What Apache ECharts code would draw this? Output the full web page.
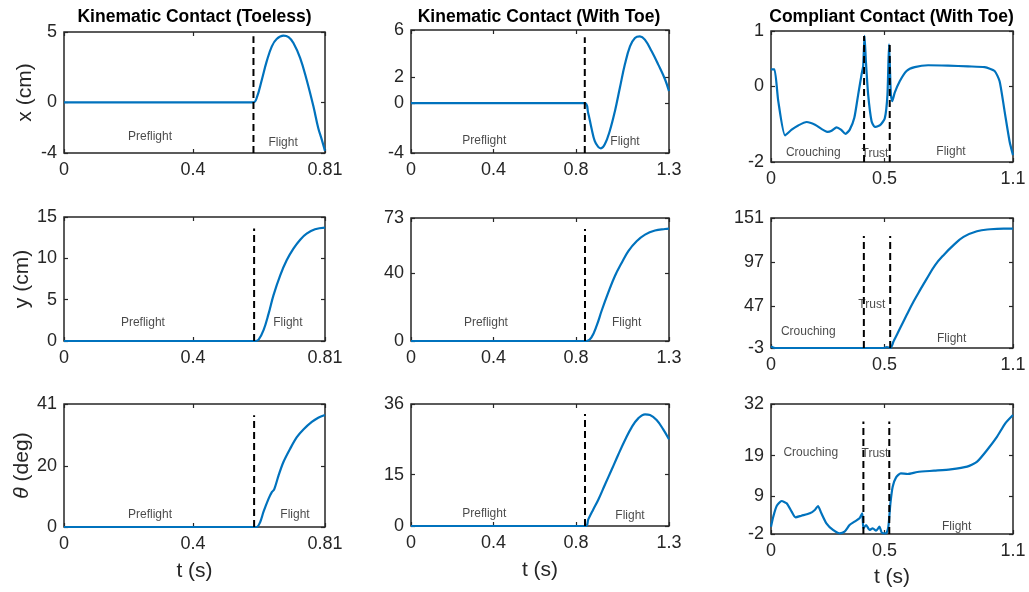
<!DOCTYPE html>
<html>
<head>
<meta charset="utf-8">
<script src="https://cdn.jsdelivr.net/npm/echarts@6/dist/echarts.min.js"></script>
<style>
  html, body { margin: 0; padding: 0; background: #fff; }
  #main { width: 1029px; height: 592px; }
</style>
</head>
<body>
<div id="main"></div>
<script>
// ---- time axes (one per column) ----
const col1Ticks = [0, 0.4, 0.81];
const col1TickLabels = ['0', '0.4', '0.81'];
const col2Ticks = [0, 0.4, 0.8, 1.25];
const col2TickLabels = ['0', '0.4', '0.8', '1.3'];
const col3Ticks = [0, 0.5, 1.066];
const col3TickLabels = ['0', '0.5', '1.1'];

// ---- y ticks, per panel ----
const yTicks11 = [-3.6, 0, 5];          const yLabels11 = ['-4', '0', '5'];
const yTicks21 = [0, 5, 10, 15];         const yLabels21 = ['0', '5', '10', '15'];
const yTicks31 = [0, 20, 40.5];          const yLabels31 = ['0', '20', '41'];
const yTicks12 = [-3.85, 0, 2, 5.64];    const yLabels12 = ['-4', '0', '2', '6'];
const yTicks22 = [0, 40, 72.6];          const yLabels22 = ['0', '40', '73'];
const yTicks32 = [0, 15, 35.6];          const yLabels32 = ['0', '15', '36'];
const yTicks13 = [-2, 0, 1.44];          const yLabels13 = ['-2', '0', '1'];
const yTicks23 = [-3, 46.9, 99.1, 151];  const yLabels23 = ['-3', '47', '97', '151'];
const yTicks33 = [-2, 7.83, 18.5, 32];   const yLabels33 = ['-2', '9', '19', '32'];

// ---- Kinematic Contact (Toeless) ----
const t11 = [0, 0.588, 0.598, 0.614, 0.629, 0.645, 0.66, 0.681, 0.697, 0.712, 0.733, 0.753, 0.774, 0.789, 0.8, 0.81];
const x11 = [0, 0, 0.31, 1.61, 2.91, 3.98, 4.50, 4.74, 4.64, 4.22, 3.15, 1.61, -0.28, -1.82, -2.65, -3.45];
const t21 = [0, 0.593, 0.604, 0.619, 0.635, 0.65, 0.671, 0.691, 0.712, 0.733, 0.753, 0.779, 0.81];
const y21 = [0, 0, 0.16, 1.29, 3.31, 5.52, 7.94, 9.76, 11.17, 12.26, 12.98, 13.51, 13.71];
const t31 = [0, 0.598, 0.609, 0.619, 0.635, 0.645, 0.652, 0.666, 0.681, 0.702, 0.722, 0.743, 0.769, 0.789, 0.81];
const th31 = [0, 0, 1.65, 4.95, 9.34, 11.5, 12.3, 17.0, 21.4, 25.8, 29.5, 32.1, 34.6, 36.0, 36.9];

// ---- Kinematic Contact (With Toe) ----
const t12 = [0, 0.842, 0.858, 0.874, 0.89, 0.907, 0.92, 0.939, 0.963, 0.988, 1.012, 1.036, 1.061, 1.085, 1.109, 1.133, 1.166, 1.198, 1.231, 1.25];
const x12 = [0, 0, -0.74, -1.90, -2.92, -3.38, -3.49, -3.18, -2.15, -0.62, 1.18, 2.97, 4.38, 5.03, 5.15, 4.90, 4.0, 2.97, 1.82, 0.92];
const t22 = [0, 0.851, 0.875, 0.9, 0.924, 0.956, 0.988, 1.021, 1.053, 1.093, 1.134, 1.182, 1.231, 1.25];
const y22 = [0, 0, 2.3, 9.2, 18.0, 28.7, 38.4, 46.2, 53.1, 58.9, 62.8, 65.2, 66.1, 66.3];
const t32 = [0, 0.846, 0.859, 0.883, 0.908, 0.94, 0.972, 1.004, 1.037, 1.069, 1.101, 1.134, 1.158, 1.19, 1.222, 1.25];
const th32 = [0, 0, 1.93, 4.84, 7.74, 12.1, 16.4, 20.8, 25.1, 28.8, 31.4, 32.6, 32.4, 30.9, 28.2, 25.3];

// ---- Compliant Contact (With Toe) ----
const t13 = [0, 0.015, 0.032, 0.062, 0.091, 0.12, 0.157, 0.194, 0.249, 0.267, 0.289, 0.308, 0.328, 0.347, 0.367, 0.384, 0.399, 0.406, 0.412, 0.418, 0.428, 0.443, 0.457, 0.479, 0.501, 0.513, 0.52, 0.528, 0.534, 0.545, 0.567, 0.597, 0.633, 0.692, 0.78, 0.868, 0.941, 0.985, 1.007, 1.029, 1.051, 1.066];
const x13 = [0.43, 0.43, -0.40, -1.30, -1.15, -1.04, -0.95, -1.02, -1.21, -1.18, -1.09, -1.15, -1.26, -1.15, -0.84, -0.23, 0.30, 0.52, 1.31, 0.65, -0.23, -0.93, -1.08, -1.04, -0.86, -0.23, 1.09, -0.23, -0.40, -0.18, 0.12, 0.39, 0.49, 0.54, 0.53, 0.51, 0.49, 0.39, 0.12, -0.67, -1.46, -1.82];
const t23 = [0, 0.018, 0.496, 0.51, 0.525, 0.54, 0.569, 0.598, 0.628, 0.657, 0.687, 0.723, 0.76, 0.804, 0.848, 0.907, 0.966, 1.025, 1.066];
const y23 = [-1.0, -3, -3, -1.8, -3, 4.9, 20.6, 36.3, 52.0, 65.8, 79.5, 95.2, 107.0, 118.8, 128.6, 135.3, 137.7, 138.5, 138.5];
const t33 = [0, 0.01, 0.025, 0.047, 0.069, 0.091, 0.108, 0.134, 0.171, 0.193, 0.207, 0.222, 0.244, 0.273, 0.302, 0.324, 0.346, 0.368, 0.39, 0.402, 0.407, 0.419, 0.434, 0.448, 0.463, 0.478, 0.488, 0.507, 0.517, 0.526, 0.536, 0.551, 0.572, 0.602, 0.645, 0.718, 0.791, 0.864, 0.908, 0.952, 0.996, 1.032, 1.066];
const th33 = [-0.08, 2.53, 5.32, 6.63, 6.02, 3.84, 2.36, 2.79, 3.40, 4.28, 5.32, 3.40, 0.79, -0.95, -1.83, -1.39, 0.35, 1.23, 2.10, 3.40, -0.52, 0.35, -0.95, -0.52, -1.13, -0.08, -1.65, -1.83, -0.08, 6.02, 10.38, 12.82, 13.87, 13.69, 14.22, 14.56, 14.91, 15.61, 16.92, 19.97, 23.46, 26.95, 29.13];

// ---- phase boundaries (dashed lines) : time, top value ----
const phase11 = [0.588];        const phaseTop11 = [4.69];
const phase21 = [0.59];         const phaseTop21 = [13.6];
const phase31 = [0.59];         const phaseTop31 = [36.8];
const phase12 = [0.842];        const phaseTop12 = [5.08];
const phase22 = [0.843];        const phaseTop22 = [66.1];
const phase32 = [0.843];        const phaseTop32 = [32.7];
const phase13 = [0.41, 0.523];  const phaseTop13 = [1.31, 1.13];
const phase23 = [0.409, 0.525]; const phaseTop23 = [129.8, 129.8];
const phase33 = [0.407, 0.521]; const phaseTop33 = [27.4, 27.4];

// ---- phase names : [text, t, value] ----
const notes11 = [['Preflight', 0.267, -2.46], ['Flight', 0.68, -2.89]];
const notes21 = [['Preflight', 0.245, 2.18], ['Flight', 0.695, 2.18]];
const notes31 = [['Preflight', 0.267, 3.95], ['Flight', 0.717, 3.95]];
const notes12 = [['Preflight', 0.355, -2.90], ['Flight', 1.037, -2.95]];
const notes22 = [['Preflight', 0.363, 10.8], ['Flight', 1.045, 10.8]];
const notes32 = [['Preflight', 0.355, 3.7], ['Flight', 1.061, 3.1]];
const notes13 = [['Crouching', 0.186, -1.76], ['Trust', 0.458, -1.79], ['Flight', 0.793, -1.73]];
const notes23 = [['Crouching', 0.164, 16.3], ['Trust', 0.444, 48.8], ['Flight', 0.796, 7.7]];
const notes33 = [['Crouching', 0.175, 19.3], ['Trust', 0.458, 18.9], ['Flight', 0.818, -0.1]];

const titles = ['Kinematic Contact (Toeless)', 'Kinematic Contact (With Toe)', 'Compliant Contact (With Toe)'];
const yNames = ['x (cm)', 'y (cm)', '{i|θ} (deg)'];

const FONT = '"Liberation Sans", Arial, Helvetica, sans-serif';
const AX = '#262626';
const BLUE = '#0072BD';

// grid rectangles in pixels [left, top, width, height]
const rects = [
  [[64, 32, 261, 121], [411, 30, 258, 123], [771, 31, 242, 131]],
  [[64, 217, 261, 124], [411, 218, 258, 123], [771, 218, 242, 130]],
  [[64, 404, 261, 123], [411, 404, 258, 122], [771, 404, 242, 130]]
];

const colX = [
  { max: 0.81, ticks: col1Ticks, labels: col1TickLabels },
  { max: 1.25, ticks: col2Ticks, labels: col2TickLabels },
  { max: 1.066, ticks: col3Ticks, labels: col3TickLabels }
];

const panels = [
  [
    { t: t11, v: x11, yt: yTicks11, yl: yLabels11, ph: phase11, pt: phaseTop11, notes: notes11, smooth: 0.4 },
    { t: t12, v: x12, yt: yTicks12, yl: yLabels12, ph: phase12, pt: phaseTop12, notes: notes12, smooth: 0.4 },
    { t: t13, v: x13, yt: yTicks13, yl: yLabels13, ph: phase13, pt: phaseTop13, notes: notes13, smooth: 0.2 }
  ],
  [
    { t: t21, v: y21, yt: yTicks21, yl: yLabels21, ph: phase21, pt: phaseTop21, notes: notes21, smooth: 0.4 },
    { t: t22, v: y22, yt: yTicks22, yl: yLabels22, ph: phase22, pt: phaseTop22, notes: notes22, smooth: 0.4 },
    { t: t23, v: y23, yt: yTicks23, yl: yLabels23, ph: phase23, pt: phaseTop23, notes: notes23, smooth: 0.4 }
  ],
  [
    { t: t31, v: th31, yt: yTicks31, yl: yLabels31, ph: phase31, pt: phaseTop31, notes: notes31, smooth: 0.3 },
    { t: t32, v: th32, yt: yTicks32, yl: yLabels32, ph: phase32, pt: phaseTop32, notes: notes32, smooth: 0.4 },
    { t: t33, v: th33, yt: yTicks33, yl: yLabels33, ph: phase33, pt: phaseTop33, notes: notes33, smooth: 0.2 }
  ]
];

function lookup(ticks, labels) {
  return function (v) {
    for (let k = 0; k < ticks.length; k++) {
      if (Math.abs(ticks[k] - v) < 1e-6) return labels[k];
    }
    return '';
  };
}

const grid = [], xAxis = [], yAxis = [], series = [];
const tickStyle = { color: AX, width: 1.2 };
const noLine = { show: false, onZero: false };

for (let r = 0; r < 3; r++) {
  for (let c = 0; c < 3; c++) {
    const p = panels[r][c];
    const cx = colX[c];
    const rc = rects[r][c];
    const gi = grid.length;
    const yMin = p.yt[0], yMax = p.yt[p.yt.length - 1];
    grid.push({
      left: rc[0], top: rc[1], width: rc[2], height: rc[3],
      show: true, borderColor: AX, borderWidth: 1.5, backgroundColor: '#fff'
    });
    // bottom / top time axes
    xAxis.push({
      gridIndex: gi, type: 'value', position: 'bottom', min: 0, max: cx.max,
      axisLine: noLine, splitLine: { show: false },
      axisTick: { inside: true, length: 4, customValues: cx.ticks, lineStyle: tickStyle },
      axisLabel: {
        customValues: cx.ticks, formatter: lookup(cx.ticks, cx.labels),
        fontSize: 18, color: AX, fontFamily: FONT, margin: 8
      },
      name: r === 2 ? 't (s)' : '', nameLocation: 'middle', nameGap: c === 2 ? 33 : 34,
      nameTextStyle: { fontSize: 21, color: AX, fontFamily: FONT }
    });
    xAxis.push({
      gridIndex: gi, type: 'value', position: 'top', min: 0, max: cx.max,
      axisLine: noLine, splitLine: { show: false },
      axisTick: { inside: true, length: 4, customValues: cx.ticks, lineStyle: tickStyle },
      axisLabel: { show: false }
    });
    // left / right value axes
    yAxis.push({
      gridIndex: gi, type: 'value', position: 'left', min: yMin, max: yMax,
      axisLine: noLine, splitLine: { show: false },
      axisTick: { inside: true, length: 4, customValues: p.yt, lineStyle: tickStyle },
      axisLabel: {
        customValues: p.yt, formatter: lookup(p.yt, p.yl),
        fontSize: 18, color: AX, fontFamily: FONT, margin: 7
      },
      name: c === 0 ? yNames[r] : '', nameLocation: 'middle', nameGap: 28, nameRotate: 90,
      nameTextStyle: {
        fontSize: 21, color: AX, fontFamily: FONT,
        rich: { i: { fontSize: 21, color: AX, fontFamily: FONT, fontStyle: 'italic' } }
      }
    });
    yAxis.push({
      gridIndex: gi, type: 'value', position: 'right', min: yMin, max: yMax,
      axisLine: noLine, splitLine: { show: false },
      axisTick: { inside: true, length: 4, customValues: p.yt, lineStyle: tickStyle },
      axisLabel: { show: false }
    });

    const xi = 2 * gi, yi = 2 * gi;
    series.push({
      type: 'line', xAxisIndex: xi, yAxisIndex: yi,
      data: p.t.map((t, k) => [t, p.v[k]]),
      showSymbol: false, smooth: p.smooth, silent: true,
      lineStyle: { color: BLUE, width: 2.2 }, z: 3
    });
    p.ph.forEach((t, k) => {
      series.push({
        type: 'line', xAxisIndex: xi, yAxisIndex: yi,
        data: [[t, yMin], [t, p.pt[k]]],
        showSymbol: false, silent: true, clip: false,
        lineStyle: { color: '#000', width: 2, type: [7, 4] }, z: 4
      });
    });
    series.push({
      type: 'scatter', xAxisIndex: xi, yAxisIndex: yi, symbolSize: 0, silent: true,
      data: p.notes.map(n => ({ name: n[0], value: [n[1], n[2]] })),
      label: {
        show: true, position: 'inside', formatter: '{b}',
        fontSize: 12, color: '#1a1a1a', fontFamily: FONT
      }, z: 5
    });
  }
}

// column titles, centred over each column
const titleCenters = [194.5, 539, 891.5];
const graphic = titles.map((s, c) => ({
  type: 'text', x: titleCenters[c], y: 8,
  style: {
    text: s, textAlign: 'center', textVerticalAlign: 'top',
    font: 'bold 17.5px ' + FONT, fill: '#000'
  }
}));

const chart = echarts.init(document.getElementById('main'), null, { renderer: 'canvas' });
chart.setOption({
  backgroundColor: '#fff',
  animation: false,
  graphic: graphic,
  grid: grid,
  xAxis: xAxis,
  yAxis: yAxis,
  series: series
});
</script>
</body>
</html>
